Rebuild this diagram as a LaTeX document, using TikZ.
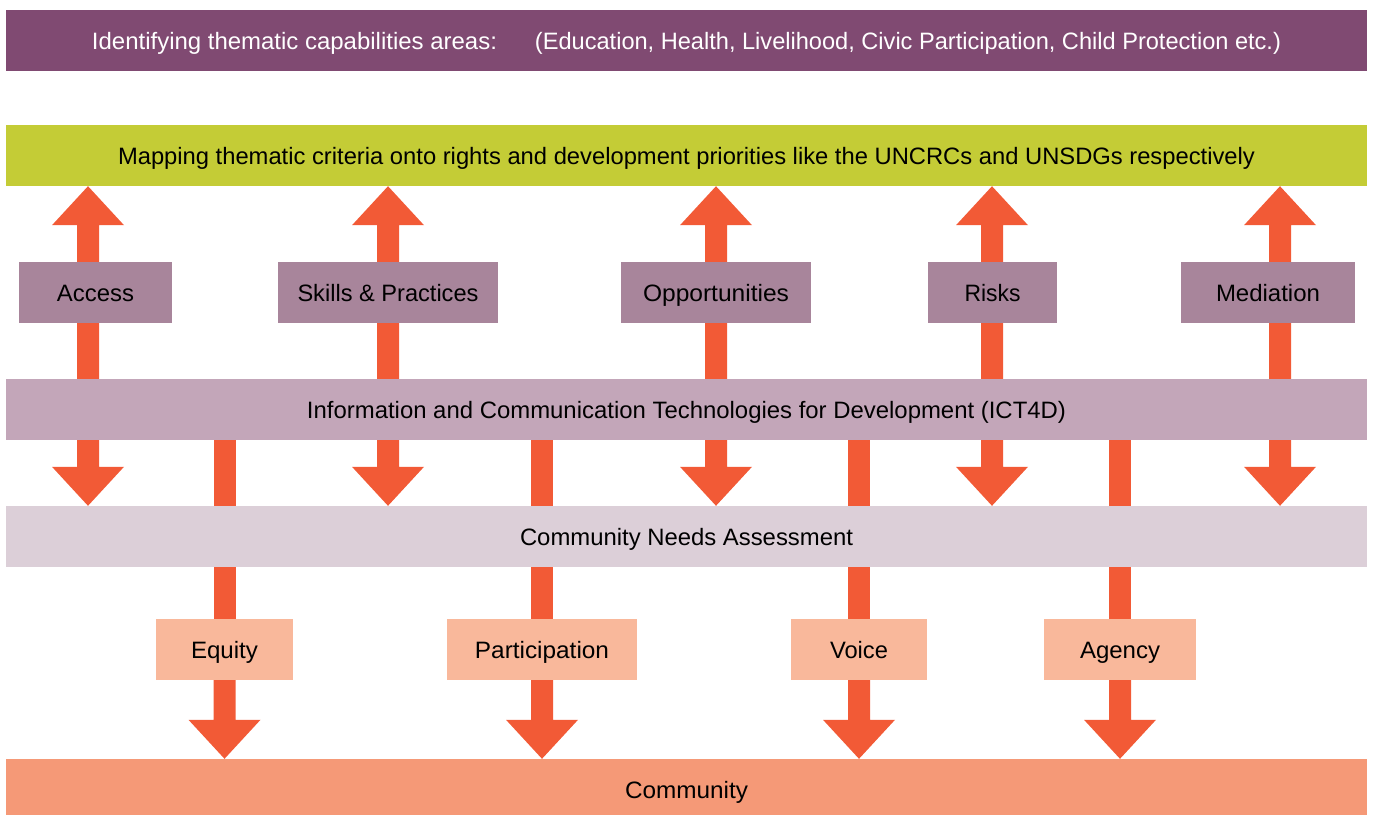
\documentclass[tikz,border=0pt]{standalone}
\usepackage{fontspec}
\setmainfont{Liberation Sans}
\usetikzlibrary{calc,backgrounds}
\definecolor{topc}{HTML}{804A72}
\definecolor{greenc}{HTML}{C4CC36}
\definecolor{boxc}{HTML}{A8859B}
\definecolor{ictc}{HTML}{C3A6B9}
\definecolor{needc}{HTML}{DCCFD8}
\definecolor{peachc}{HTML}{F9B89B}
\definecolor{commc}{HTML}{F59977}
\definecolor{arrc}{HTML}{F25A36}
\newcommand\fitw[2]{\resizebox{#1}{\height}{#2}}
% fat arrows: #1 start point, #2 tip point (same x)
\newcommand\fatup[2]{\fill[arrc] let \p1=#1, \p2=#2 in
  (\x1-11pt,\y1) -- (\x1-11pt,\y2-39pt) -- (\x1-36pt,\y2-39pt) -- (\x1,\y2)
  -- (\x1+36pt,\y2-39pt) -- (\x1+11pt,\y2-39pt) -- (\x1+11pt,\y1) -- cycle;}
\newcommand\fatdown[2]{\fill[arrc] let \p1=#1, \p2=#2 in
  (\x1-11pt,\y1) -- (\x1-11pt,\y2+39pt) -- (\x1-36pt,\y2+39pt) -- (\x1,\y2)
  -- (\x1+36pt,\y2+39pt) -- (\x1+11pt,\y2+39pt) -- (\x1+11pt,\y1) -- cycle;}
\newcommand\fatshaft[2]{\fill[arrc] let \p1=#1, \p2=#2 in
  (\x1-11pt,\y1) rectangle (\x1+11pt,\y2);}
\begin{document}
\begin{tikzpicture}[x=1pt,y=-1pt,
  font=\fontsize{23.7}{28}\selectfont,
  bar/.style={inner sep=0pt, minimum width=1361pt, minimum height=61pt, text height=17pt, text depth=0pt},
  box/.style={inner sep=0pt, minimum height=61pt, text height=17pt, text depth=0pt},
  rowbox/.style={box, fill=boxc},
  peachbox/.style={box, fill=peachc}]
\useasboundingbox (0,0) rectangle (1373,814);

% bars
\node[bar, fill=topc, text=white] (top) at (686.5,40.5)
  {\fitw{405pt}{Identifying thematic capabilities areas:}\hspace{38pt}\fitw{746pt}{(Education, Health, Livelihood, Civic Participation, Child Protection etc.)}};
\node[bar, fill=greenc] (green) at (686.5,155.5)
  {\fitw{1137pt}{Mapping thematic criteria onto rights and development priorities like the UNCRCs and UNSDGs respectively}};
\node[bar, fill=ictc] (ict) at (686.5,409.5)
  {\fitw{759pt}{Information and Communication Technologies for Development (ICT4D)}};
\node[bar, fill=needc] (need) at (686.5,536.5)
  {\fitw{333pt}{Community Needs Assessment}};
\node[bar, fill=commc, minimum height=62pt] (comm) at (686.5,790)
  {\fitw{123pt}{Community}};

% row of capability boxes
\node[rowbox, minimum width=153pt] (access) at (95.5,292.5) {\fitw{77pt}{Access}};
\node[rowbox, minimum width=220pt] (skills) at (388,292.5) {\fitw{181pt}{Skills \& Practices}};
\node[rowbox, minimum width=190pt] (opp) at (716,292.5) {\fitw{146pt}{Opportunities}};
\node[rowbox, minimum width=129pt] (risks) at (992.5,292.5) {\fitw{56pt}{Risks}};
\node[rowbox, minimum width=174pt] (med) at (1268,292.5) {\fitw{104pt}{Mediation}};

% arrow axes
\coordinate (ax1) at (88,292.5);
\coordinate (ax2) at (388,292.5);
\coordinate (ax3) at (716,292.5);
\coordinate (ax4) at (992,292.5);
\coordinate (ax5) at (1280,292.5);

% outcome boxes
\node[peachbox, minimum width=137pt] (equity) at (224.5,649.5) {\fitw{67pt}{Equity}};
\node[peachbox, minimum width=190pt] (part) at (542,649.5) {\fitw{134pt}{Participation}};
\node[peachbox, minimum width=136pt] (voice) at (859,649.5) {\fitw{58pt}{Voice}};
\node[peachbox, minimum width=152pt] (agency) at (1120,649.5) {\fitw{80pt}{Agency}};

\begin{pgfonlayer}{background}
  \foreach \a in {ax1,ax2,ax3,ax4,ax5}{
    \fatup{(\a |- ict.north)}{(\a |- green.south)}
    \fatdown{(\a |- ict.south)}{(\a |- need.north)}
  }
  \foreach \b in {equity,part,voice,agency}{
    \fatshaft{(\b |- ict.south)}{(\b.north)}
    \fatdown{(\b.south)}{(\b |- comm.north)}
  }
\end{pgfonlayer}
\end{tikzpicture}
\end{document}
